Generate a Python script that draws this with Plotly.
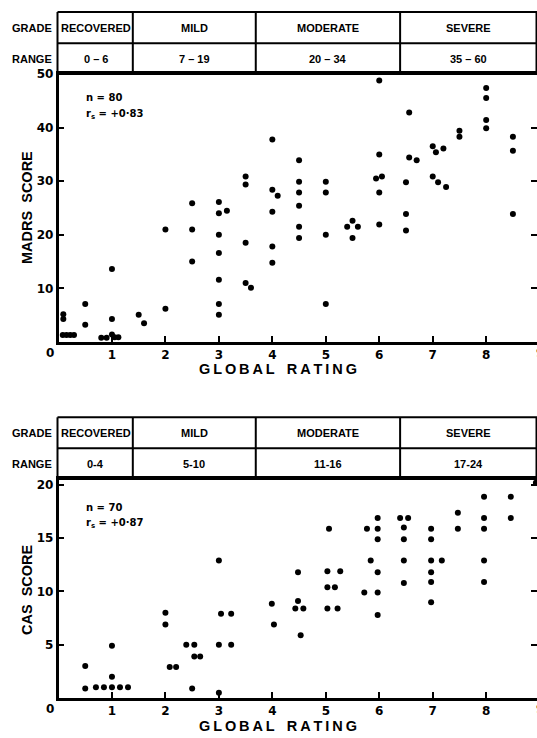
import plotly.graph_objects as go

# ---------------- data ----------------
madrs_x = [0.09, 0.09, 0.08, 0.15, 0.22, 0.29,
           0.5, 0.5,
           0.8, 0.9, 1.0, 1.05, 1.12,
           1.0, 1.0,
           1.5, 1.6,
           2.0, 2.0,
           2.5, 2.5, 2.5,
           3.0, 3.0, 3.0, 3.0, 3.0, 3.0, 3.0,
           3.15,
           3.5, 3.5, 3.5, 3.5, 3.6,
           4.0, 4.0, 4.0, 4.0, 4.0, 4.1,
           4.5, 4.5, 4.5, 4.5, 4.5, 4.5,
           5.0, 5.0, 5.0, 5.0,
           5.4, 5.5, 5.5, 5.6,
           5.94, 6.05, 6.0, 6.0, 6.0, 6.0,
           6.5, 6.5, 6.5, 6.56, 6.56, 6.7,
           7.0, 7.0, 7.06, 7.1, 7.2, 7.25,
           7.5, 7.5,
           8.0, 8.0, 8.0, 8.0,
           8.5, 8.5, 8.5]
madrs_y = [5.2, 4.3, 1.3, 1.3, 1.3, 1.3,
           7.1, 3.2,
           0.8, 0.8, 1.4, 0.9, 0.9,
           13.6, 4.3,
           5.1, 3.5,
           21.0, 6.2,
           25.9, 21.0, 15.0,
           26.1, 24.0, 20.0, 16.6, 11.6, 7.1, 5.1,
           24.5,
           30.9, 29.4, 18.5, 11.0, 10.1,
           37.8, 28.4, 24.3, 17.8, 14.8, 27.3,
           33.9, 29.9, 27.9, 25.4, 21.5, 19.4,
           29.9, 27.9, 20.0, 7.1,
           21.5, 22.6, 19.4, 21.5,
           30.5, 30.9, 48.8, 35.0, 27.9, 21.9,
           29.8, 23.9, 20.8, 42.8, 34.4, 33.9,
           36.5, 30.9, 35.4, 29.8, 36.1, 28.9,
           39.4, 38.3,
           47.4, 45.5, 41.4, 39.9,
           38.3, 35.7, 23.9]

cas_x = [0.5, 0.5, 0.7, 0.85,
         1.0, 1.0, 1.0, 1.15, 1.3,
         2.0, 2.0, 2.08, 2.2,
         2.39, 2.54, 2.54, 2.5, 2.65,
         3.0, 3.0, 3.0, 3.04, 3.23, 3.23,
         3.99, 4.03, 4.43, 4.48, 4.48, 4.58, 4.53,
         5.03, 5.03, 5.03, 5.06, 5.17, 5.27, 5.22,
         5.77, 5.72, 5.84,
         5.97, 5.97, 5.97, 5.97, 5.97, 5.97,
         6.39, 6.54, 6.46, 6.46, 6.46, 6.46,
         6.97, 6.97, 6.97, 6.97, 6.97, 6.97, 7.17,
         7.47, 7.47,
         7.96, 7.96, 7.96, 7.96, 7.96,
         8.46, 8.46,
         8.93]
cas_y = [3.0, 0.9, 1.0, 1.0,
         4.9, 2.0, 1.0, 1.0, 1.0,
         8.0, 6.9, 2.9, 2.9,
         5.0, 5.0, 3.9, 0.9, 3.9,
         12.9, 5.0, 0.5, 7.9, 7.9, 5.0,
         8.85, 6.9, 8.4, 11.8, 9.1, 8.4, 5.9,
         11.9, 10.4, 8.4, 15.9, 10.4, 11.9, 8.4,
         15.9, 9.9, 12.9,
         16.9, 15.9, 14.9, 11.8, 9.9, 7.8,
         16.9, 16.9, 16.0, 14.9, 12.9, 10.8,
         15.9, 14.9, 12.9, 11.8, 10.9, 9.0, 12.9,
         17.4, 15.9,
         18.9, 16.9, 15.9, 12.9, 10.9,
         18.9, 16.9,
         20.2]

grades = ["RECOVERED", "MILD", "MODERATE", "SEVERE"]
madrs_ranges = ["0 \u2013 6", "7 \u2013 19", "20 \u2013 34", "35 \u2013 60"]
cas_ranges = ["0-4", "5-10", "11-16", "17-24"]
madrs_stats = ["n = 80", "r<sub>s</sub> = +0\u00b783"]
cas_stats = ["n = 70", "r<sub>s</sub> = +0\u00b787"]
x_ticks = [1, 2, 3, 4, 5, 6, 7, 8]
madrs_ticks = [10, 20, 30, 40, 50]
cas_ticks = [5, 10, 15, 20]

# ---------------- layout helpers ----------------
W, H = 537, 738
X0PX, XSCALE = 58.5, 53.46
XMAX = (W - X0PX) / XSCALE
col_edges = [0, 1.39, 3.69, 6.39, XMAX]


def py(px):
    return 1 - px / H


def pxx(px):
    return px / W


TICKF = dict(family="DejaVu Sans", size=12, color="black", weight="bold")
HEADF = dict(family="Liberation Sans", size=11, color="black", weight="bold")
TITLEF = dict(family="Liberation Sans", size=14.5, color="black", weight="bold")
STATF = dict(family="DejaVu Sans", size=10, color="black", weight="bold")

fig = go.Figure()
fig.add_trace(go.Scatter(x=madrs_x, y=madrs_y, mode="markers", xaxis="x", yaxis="y",
                         marker=dict(color="black", size=6), cliponaxis=False, showlegend=False))
fig.add_trace(go.Scatter(x=cas_x, y=cas_y, mode="markers", xaxis="x2", yaxis="y2",
                         marker=dict(color="black", size=6), cliponaxis=False, showlegend=False))

xdom = [X0PX / W, 1.0]
xcommon = dict(range=[0, XMAX], tickvals=x_ticks, ticks="inside", ticklen=6, tickwidth=2,
               tickcolor="black", showline=True, linewidth=2.5, linecolor="black", mirror=True,
               showgrid=False, zeroline=False, tickfont=TICKF, domain=xdom, automargin=False,
               fixedrange=True)
ycommon = dict(ticks="inside", ticklen=6, tickwidth=2, tickcolor="black", showline=True,
               linewidth=2.5, linecolor="black", mirror="ticks", showgrid=False, zeroline=False,
               tickfont=TICKF, automargin=False, fixedrange=True)

panels = [
    dict(xa="x", top=12, mid=43.3, bot=74, zero=342, ranges=madrs_ranges,
         stats=madrs_stats, ytitle="MADRS\u00a0\u00a0SCORE", ymax=50,
         stat_y=(98, 114), ytitle_y=208, title_y=369),
    dict(xa="x2", top=417.3, mid=448.3, bot=479, zero=698, ranges=cas_ranges,
         stats=cas_stats, ytitle="CAS\u00a0\u00a0SCORE", ymax=20.56,
         stat_y=(507, 523), ytitle_y=590, title_y=726),
]

layout = dict(width=W, height=H, margin=dict(l=0, r=0, t=0, b=0, pad=0), template="none",
              paper_bgcolor="white", plot_bgcolor="white", showlegend=False)
layout["xaxis"] = dict(xcommon, anchor="y")
layout["xaxis2"] = dict(xcommon, anchor="y2")
layout["yaxis"] = dict(ycommon, range=[0, panels[0]["ymax"]], tickvals=madrs_ticks,
                       domain=[py(panels[0]["zero"]), py(panels[0]["bot"])], anchor="x")
layout["yaxis2"] = dict(ycommon, range=[0, panels[1]["ymax"]], tickvals=cas_ticks,
                        domain=[py(panels[1]["zero"]), py(panels[1]["bot"])], anchor="x2")
fig.update_layout(**layout)

shapes = []
annotations = []
title_txt = "\u2009".join("GLOBAL") + "\u00a0\u00a0\u00a0" + "\u2009".join("RATING")
for p in panels:
    xa = p["xa"]
    for ypx in (p["top"], p["mid"], p["bot"]):
        shapes.append(dict(type="line", xref="paper", yref="paper", x0=pxx(57.5), x1=1.0,
                           y0=py(ypx), y1=py(ypx), line=dict(color="black", width=2)))
    for xe in col_edges[1:-1]:
        shapes.append(dict(type="line", xref=xa, yref="paper", x0=xe, x1=xe,
                           y0=py(p["bot"]), y1=py(p["top"]), line=dict(color="black", width=2)))
    shapes.append(dict(type="line", xref="paper", yref="paper", x0=pxx(57.5), x1=pxx(57.5),
                       y0=py(p["bot"]), y1=py(p["top"]), line=dict(color="black", width=2)))
    shapes.append(dict(type="line", xref="paper", yref="paper", x0=pxx(536.5), x1=pxx(536.5),
                       y0=py(p["bot"]), y1=py(p["top"]), line=dict(color="black", width=2)))
    gy = py((p["top"] + p["mid"]) / 2)
    ry = py((p["mid"] + p["bot"]) / 2)
    annotations.append(dict(text="GRADE", xref="paper", yref="paper", x=pxx(54), y=gy,
                            xanchor="right", yanchor="middle", showarrow=False, font=HEADF))
    annotations.append(dict(text="RANGE", xref="paper", yref="paper", x=pxx(54), y=ry,
                            xanchor="right", yanchor="middle", showarrow=False, font=HEADF))
    for i in range(4):
        cx = (col_edges[i] + col_edges[i + 1]) / 2
        annotations.append(dict(text=grades[i], xref=xa, yref="paper", x=cx, y=gy,
                                xanchor="center", yanchor="middle", showarrow=False, font=HEADF))
        annotations.append(dict(text=p["ranges"][i], xref=xa, yref="paper", x=cx, y=ry,
                                xanchor="center", yanchor="middle", showarrow=False, font=HEADF))
    for s, sy in zip(p["stats"], p["stat_y"]):
        annotations.append(dict(text=s, xref="paper", yref="paper", x=pxx(84), y=py(sy),
                                xanchor="left", yanchor="middle", showarrow=False, font=STATF))
    annotations.append(dict(text="0", xref="paper", yref="paper", x=pxx(50), y=py(p["zero"] + 11),
                            xanchor="center", yanchor="middle", showarrow=False, font=TICKF))
    annotations.append(dict(text="9", xref="paper", yref="paper", x=pxx(X0PX + 9 * XSCALE),
                            y=py(p["zero"] + 11), xanchor="center", yanchor="middle",
                            showarrow=False, font=TICKF))
    annotations.append(dict(text=title_txt, xref="paper", yref="paper", x=pxx(278),
                            y=py(p["title_y"]), xanchor="center", yanchor="middle",
                            showarrow=False, font=TITLEF))
    annotations.append(dict(text=p["ytitle"], xref="paper", yref="paper", x=pxx(27),
                            y=py(p["ytitle_y"]), xanchor="center", yanchor="middle",
                            showarrow=False, font=TITLEF, textangle=-90))

fig.update_layout(shapes=shapes, annotations=annotations)
fig.write_html("out.html", config={"displayModeBar": False},
               post_script="document.body.style.margin='0';document.body.style.padding='0';"
                           "document.body.style.overflow='hidden';")
